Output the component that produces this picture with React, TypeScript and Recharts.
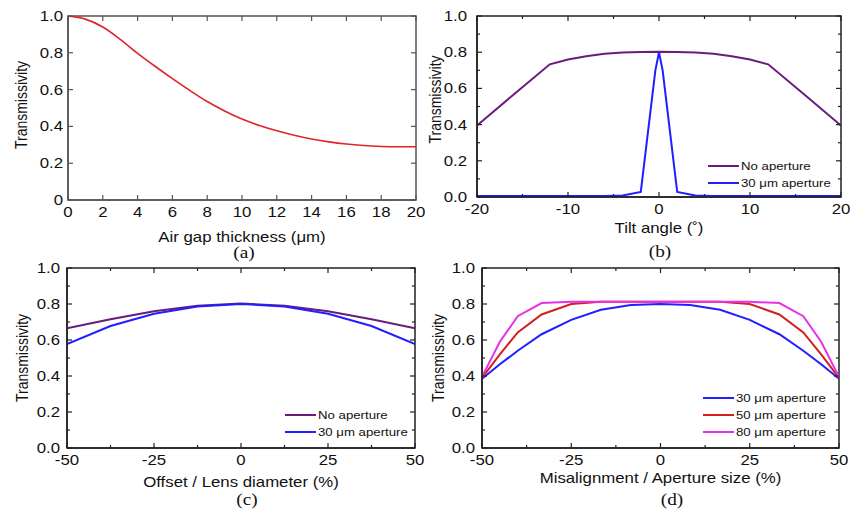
import { LineChart, Line, XAxis, YAxis, Label, ReferenceArea } from "recharts";

// (a) air gap
const gapX = [0, 1, 2, 3, 4, 5, 6, 7, 8, 9, 10, 11, 12, 13, 14, 15, 16, 17, 18, 19, 20];
const gapT = [1.0, 0.983, 0.94, 0.873, 0.797, 0.727, 0.66, 0.596, 0.535, 0.484, 0.44, 0.405, 0.376, 0.352, 0.332, 0.316, 0.304, 0.296, 0.291, 0.289, 0.289];

// (b) tilt angle
const tiltX = [-20, -16, -12, -10, -8, -6, -4, -2, 0, 2, 4, 6, 8, 10, 12, 16, 20];
const tiltNoAp = [0.395, 0.565, 0.733, 0.76, 0.778, 0.791, 0.798, 0.801, 0.803, 0.801, 0.798, 0.791, 0.778, 0.76, 0.733, 0.565, 0.395];
const tiltApX = [-20, -16, -12, -8, -6, -4, -2, -0.4, 0, 0.4, 2, 4, 6, 8, 12, 16, 20];
const tiltAp30 = [0.005, 0.005, 0.005, 0.005, 0.005, 0.008, 0.028, 0.7, 0.8, 0.7, 0.028, 0.008, 0.005, 0.005, 0.005, 0.005, 0.005];

// (c) offset
const offX = [-50, -37.5, -25, -12.5, 0, 12.5, 25, 37.5, 50];
const offNoAp = [0.665, 0.715, 0.76, 0.79, 0.803, 0.79, 0.76, 0.715, 0.665];
const offAp30 = [0.577, 0.678, 0.746, 0.786, 0.8, 0.786, 0.746, 0.678, 0.577];

// (d) misalignment
const misX = [-50, -45, -40, -33.3, -25, -16.7, -8.3, 0, 8.3, 16.7, 25, 33.3, 40, 45, 50];
const mis30 = [0.385, 0.465, 0.54, 0.632, 0.712, 0.768, 0.795, 0.8, 0.795, 0.768, 0.712, 0.632, 0.54, 0.465, 0.385];
const mis50 = [0.39, 0.52, 0.642, 0.742, 0.8, 0.812, 0.812, 0.812, 0.812, 0.812, 0.8, 0.742, 0.642, 0.52, 0.39];
const mis80 = [0.395, 0.59, 0.732, 0.805, 0.812, 0.812, 0.812, 0.812, 0.812, 0.812, 0.812, 0.805, 0.732, 0.59, 0.395];

const zip = (xs: number[], ys: number[]) => xs.map((x, i) => ({ x, y: ys[i] }));

const SANS = "'Liberation Sans', Arial, sans-serif";
const SERIF = "'Liberation Serif', 'Times New Roman', serif";
const INK = "#111";
// the source figure is stretched horizontally, so text is widened a bit
const SX = 1.2;

const PURPLE = "#6a1b7e";
const BLUE = "#1f1fff";
const RED = "#e0242a";
const DRED = "#d61e1e";
const MAGENTA = "#e630ec";

type Series = { data: { x: number; y: number }[]; color: string; width?: number; smooth?: boolean };

type PanelProps = {
  left: number;
  top: number;
  height: number;
  yAxisW: number;
  mTop: number;
  mRight: number;
  xAxisH: number;
  xDomain: [number, number];
  xTicks: number[];
  xMinor: number[];
  yTicks: number[];
  yMinor: number[];
  yFmt: (v: number) => string;
  yGap: number;
  yLabelX: number;
  yLabelDy: number;
  xLabel: string;
  xLabelDy: number;
  frame: string;
  series: Series[];
};

const Panel = (p: PanelProps) => {
  const plotW = 425 - p.yAxisW - p.mRight;
  const plotH = p.height - p.mTop - p.xAxisH;
  const xTick = (t: any) => {
    const v = t.payload.value;
    const minor = p.xMinor.includes(v);
    const len = minor ? 3 : 5;
    return (
      <g>
        <line x1={t.x} y1={t.y} x2={t.x} y2={t.y - len} stroke={p.frame} strokeWidth={1.2} />
        <line x1={t.x} y1={t.y - plotH} x2={t.x} y2={t.y - plotH + len} stroke={p.frame} strokeWidth={1.2} />
        {!minor && (
          <text
            transform={`translate(${t.x},${t.y + 12}) scale(${SX},1)`}
            dy="0.35em"
            textAnchor="middle"
            fontSize={14}
            fill={INK}
            fontFamily={SANS}
          >
            {v}
          </text>
        )}
      </g>
    );
  };
  const yTick = (t: any) => {
    const v = t.payload.value;
    const minor = p.yMinor.includes(v);
    const len = minor ? 3 : 5;
    return (
      <g>
        <line x1={t.x} y1={t.y} x2={t.x + len} y2={t.y} stroke={p.frame} strokeWidth={1.2} />
        <line x1={t.x + plotW} y1={t.y} x2={t.x + plotW - len} y2={t.y} stroke={p.frame} strokeWidth={1.2} />
        {!minor && (
          <text
            transform={`translate(${t.x - p.yGap},${t.y}) scale(${SX},1)`}
            dy="0.35em"
            textAnchor="end"
            fontSize={14}
            fill={INK}
            fontFamily={SANS}
          >
            {p.yFmt(v)}
          </text>
        )}
      </g>
    );
  };
  return (
    <div style={{ position: "absolute", left: p.left, top: p.top }}>
      <LineChart width={425} height={p.height} margin={{ top: p.mTop, right: p.mRight, left: 0, bottom: 0 }}>
        <XAxis
          dataKey="x"
          type="number"
          domain={p.xDomain}
          ticks={[...p.xTicks, ...p.xMinor].sort((a, b) => a - b)}
          interval={0}
          height={p.xAxisH}
          tickSize={0}
          tickMargin={0}
          tickLine={false}
          axisLine={{ stroke: p.frame, strokeWidth: 1.5 }}
          tick={xTick}
          allowDataOverflow
        >
          <Label
            content={(l: any) => (
              <text
                transform={`translate(${l.viewBox.x + l.viewBox.width / 2},${l.viewBox.y + p.xLabelDy}) scale(${SX},1)`}
                dy="0.35em"
                textAnchor="middle"
                fontSize={14}
                fill={INK}
                fontFamily={SANS}
              >
                {p.xLabel}
              </text>
            )}
          />
        </XAxis>
        <YAxis
          type="number"
          domain={[0, 1]}
          ticks={[...p.yTicks, ...p.yMinor].sort((a, b) => a - b)}
          interval={0}
          width={p.yAxisW}
          tickSize={0}
          tickMargin={0}
          tickLine={false}
          axisLine={{ stroke: p.frame, strokeWidth: 1.5 }}
          tick={yTick}
          allowDataOverflow
        >
          <Label
            content={(l: any) => {
              const cx = l.viewBox.x + p.yLabelX;
              const cy = l.viewBox.y + l.viewBox.height / 2 + p.yLabelDy;
              return (
                <text
                  transform={`translate(${cx},${cy}) scale(${SX},1) rotate(-90)`}
                  dy="0.35em"
                  textAnchor="middle"
                  fontSize={14}
                  fill={INK}
                  fontFamily={SANS}
                >
                  Transmissivity
                </text>
              );
            }}
          />
        </YAxis>
        <ReferenceArea
          x1={p.xDomain[0]}
          x2={p.xDomain[1]}
          y1={0}
          y2={1}
          fill="none"
          stroke={p.frame}
          strokeWidth={1.5}
          ifOverflow="visible"
        />
        {p.series.map((s, i) => (
          <Line
            key={i}
            data={s.data}
            dataKey="y"
            type={s.smooth ? "monotone" : "linear"}
            stroke={s.color}
            strokeWidth={s.width ?? 2}
            dot={false}
            isAnimationActive={false}
          />
        ))}
      </LineChart>
    </div>
  );
};

const Legend = ({ x, y, items }: { x: number; y: number; items: { label: string; color: string }[] }) => (
  <>
    {items.map((it, i) => (
      <div
        key={it.label}
        style={{ position: "absolute", left: x, top: y + i * 17 - 9, height: 18, display: "flex", alignItems: "center" }}
      >
        <div style={{ width: 31, height: 2.5, background: it.color, marginRight: 2 }} />
        <span
          style={{
            display: "inline-block",
            fontFamily: SANS,
            fontSize: 11,
            color: INK,
            whiteSpace: "nowrap",
            transform: `scaleX(${SX})`,
            transformOrigin: "left center",
          }}
        >
          {it.label}
        </span>
      </div>
    ))}
  </>
);

const Caption = ({ x, y, text }: { x: number; y: number; text: string }) => (
  <div
    style={{
      position: "absolute",
      left: x - 20,
      top: y - 10,
      width: 40,
      height: 20,
      lineHeight: "20px",
      textAlign: "center",
      fontFamily: SERIF,
      fontSize: 16,
      color: INK,
      transform: `scaleX(${SX})`,
    }}
  >
    {text}
  </div>
);

const fmt1 = (v: number) => v.toFixed(1);
const fmtA = (v: number) => (v === 0 ? "0" : v.toFixed(1));
const yMaj = [0, 0.2, 0.4, 0.6, 0.8, 1.0];
const yMin = [0.1, 0.3, 0.5, 0.7, 0.9];

export default function App() {
  return (
    <div style={{ position: "absolute", left: 0, top: 0, width: 850, height: 510, background: "#fff", overflow: "hidden" }}>
      <Panel
        left={0}
        top={0}
        height={255}
        yAxisW={68}
        mTop={16}
        mRight={9}
        xAxisH={55}
        xDomain={[0, 20]}
        xTicks={[0, 2, 4, 6, 8, 10, 12, 14, 16, 18, 20]}
        xMinor={[]}
        yTicks={yMaj}
        yMinor={[]}
        yFmt={fmtA}
        yGap={5}
        yLabelX={21}
        yLabelDy={-3}
        xLabel="Air gap thickness (μm)"
        xLabelDy={37}
        frame="#555"
        series={[{ data: zip(gapX, gapT), color: RED, width: 1.6, smooth: true }]}
      />
      <Panel
        left={425}
        top={0}
        height={255}
        yAxisW={52}
        mTop={16}
        mRight={9}
        xAxisH={58}
        xDomain={[-20, 20]}
        xTicks={[-20, -10, 0, 10, 20]}
        xMinor={[-15, -5, 5, 15]}
        yTicks={yMaj}
        yMinor={yMin}
        yFmt={fmt1}
        yGap={10}
        yLabelX={10}
        yLabelDy={-7}
        xLabel="Tilt angle (˚)"
        xLabelDy={31}
        frame="#222"
        series={[
          { data: zip(tiltX, tiltNoAp), color: PURPLE },
          { data: zip(tiltApX, tiltAp30), color: BLUE },
        ]}
      />
      <Panel
        left={0}
        top={255}
        height={255}
        yAxisW={67}
        mTop={13}
        mRight={10}
        xAxisH={62}
        xDomain={[-50, 50]}
        xTicks={[-50, -25, 0, 25, 50]}
        xMinor={[-37.5, -12.5, 12.5, 37.5]}
        yTicks={yMaj}
        yMinor={yMin}
        yFmt={fmt1}
        yGap={7}
        yLabelX={22}
        yLabelDy={0}
        xLabel="Offset / Lens diameter (%)"
        xLabelDy={34}
        frame="#222"
        series={[
          { data: zip(offX, offNoAp), color: PURPLE },
          { data: zip(offX, offAp30), color: BLUE },
        ]}
      />
      <Panel
        left={425}
        top={255}
        height={255}
        yAxisW={57}
        mTop={13}
        mRight={11}
        xAxisH={62}
        xDomain={[-50, 50]}
        xTicks={[-50, -25, 0, 25, 50]}
        xMinor={[-37.5, -12.5, 12.5, 37.5]}
        yTicks={yMaj}
        yMinor={yMin}
        yFmt={fmt1}
        yGap={7}
        yLabelX={13}
        yLabelDy={0}
        xLabel="Misalignment / Aperture size (%)"
        xLabelDy={30}
        frame="#222"
        series={[
          { data: zip(misX, mis30), color: BLUE },
          { data: zip(misX, mis50), color: DRED },
          { data: zip(misX, mis80), color: MAGENTA },
        ]}
      />
      <Legend
        x={708}
        y={166}
        items={[
          { label: "No aperture", color: PURPLE },
          { label: "30 μm aperture", color: BLUE },
        ]}
      />
      <Legend
        x={285}
        y={415}
        items={[
          { label: "No aperture", color: PURPLE },
          { label: "30 μm aperture", color: BLUE },
        ]}
      />
      <Legend
        x={703}
        y={398}
        items={[
          { label: "30 μm aperture", color: BLUE },
          { label: "50 μm aperture", color: DRED },
          { label: "80 μm aperture", color: MAGENTA },
        ]}
      />
      <Caption x={244} y={253} text="(a)" />
      <Caption x={660} y={252} text="(b)" />
      <Caption x={247} y={500} text="(c)" />
      <Caption x={672} y={500} text="(d)" />
    </div>
  );
}
